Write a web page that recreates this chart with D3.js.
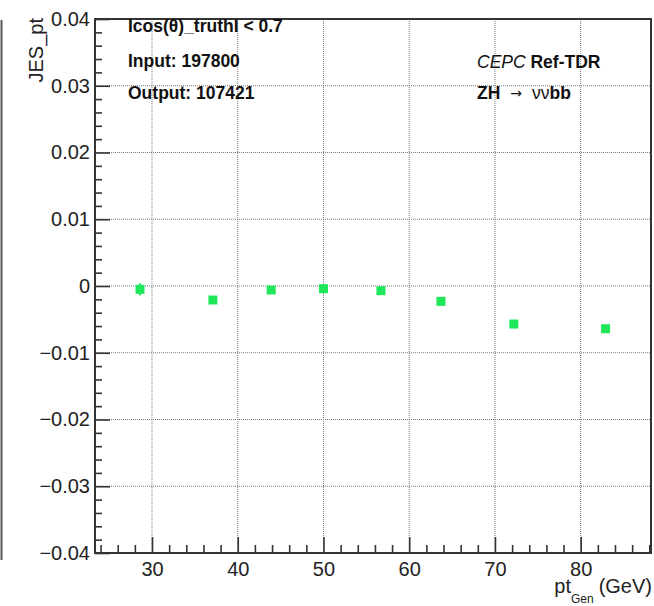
<!DOCTYPE html>
<html>
<head>
<meta charset="utf-8">
<script src="https://cdn.jsdelivr.net/npm/d3@7"></script>
<style>
  body { margin: 0; background: #fff; }
  svg { display: block; font-family: "Liberation Sans", Arial, Helvetica, sans-serif; }
</style>
</head>
<body>
<script>

// values
var ptGen = [28.6, 37.1, 43.9, 50.0, 56.7, 63.7, 72.2, 82.9];
var jesPt = [-0.0005, -0.0021, -0.0006, -0.0004, -0.0007, -0.0023, -0.0057, -0.0064];
var jesErr = [0.0009, 0.0003, 0.0003, 0.0005, 0.0003, 0.0003, 0.0003, 0.0003];

var xMajor = [30, 40, 50, 60, 70, 80];
var yMajor = [-0.04, -0.03, -0.02, -0.01, 0, 0.01, 0.02, 0.03, 0.04];
var yLabels = ["\u22120.04", "\u22120.03", "\u22120.02", "\u22120.01", "0", "0.01", "0.02", "0.03", "0.04"];

var infoLines = ["Icos(\u03b8)_truthI < 0.7", "Input: 197800", "Output: 107421"];

var W = 654, H = 606;
var margin = { top: 19, right: 3, bottom: 53, left: 95 };
var w = W - margin.left - margin.right;
var h = H - margin.top - margin.bottom;

var svg = d3.select("body").append("svg")
    .attr("width", W)
    .attr("height", H);

var x = d3.scaleLinear().domain([23.35, 88.2]).range([0, w]);
var y = d3.scaleLinear().domain([-0.04, 0.04]).range([h, 0]);

var g = svg.append("g")
    .attr("transform", "translate(" + margin.left + "," + margin.top + ")");

// grid
g.selectAll("line.gx")
  .data(xMajor)
  .enter().append("line")
  .attr("x1", function(d) { return x(d); })
  .attr("x2", function(d) { return x(d); })
  .attr("y1", 0).attr("y2", h)
  .attr("stroke", "#777").attr("stroke-width", 1)
  .attr("stroke-dasharray", "1,1");

g.selectAll("line.gy")
  .data(yMajor.slice(1, -1))
  .enter().append("line")
  .attr("y1", function(d) { return y(d); })
  .attr("y2", function(d) { return y(d); })
  .attr("x1", 0).attr("x2", w)
  .attr("stroke", "#777").attr("stroke-width", 1)
  .attr("stroke-dasharray", "1,1");

// minor ticks
var xMinor = d3.range(24, 89, 2).filter(function(d) { return d % 10 !== 0; });
var yMinor = d3.range(-20, 21).map(function(i) { return i * 0.002; })
    .filter(function(d, i) { return i % 5 !== 0; });

g.append("g")
  .attr("transform", "translate(0," + h + ")")
  .call(d3.axisBottom(x).tickValues(xMinor).tickSize(-8).tickFormat(""));

g.append("g")
  .call(d3.axisLeft(y).tickValues(yMinor).tickSize(-7).tickFormat(""));

// major ticks + labels
var xAxis = g.append("g")
  .attr("transform", "translate(0," + h + ")")
  .call(d3.axisBottom(x).tickValues(xMajor).tickSize(-16).tickPadding(9));

var yAxis = g.append("g")
  .call(d3.axisLeft(y).tickValues(yMajor).tickSize(-15).tickPadding(5)
        .tickFormat(function(d, i) { return yLabels[i]; }));

g.selectAll(".domain").remove();
g.selectAll(".tick line").attr("stroke", "#333").attr("stroke-width", 1.6);
g.selectAll(".tick text")
  .attr("font-family", "Liberation Sans, Arial, sans-serif")
  .attr("font-size", "20px")
  .attr("fill", "#222");

// frame
g.append("rect")
  .attr("x", 0).attr("y", 0)
  .attr("width", w).attr("height", h)
  .attr("fill", "none")
  .attr("stroke", "#333")
  .attr("stroke-width", 2);

// error bars + markers
g.selectAll("line.err")
  .data(jesPt)
  .enter().append("line")
  .attr("x1", function(d, i) { return x(ptGen[i]); })
  .attr("x2", function(d, i) { return x(ptGen[i]); })
  .attr("y1", function(d, i) { return y(d - jesErr[i]); })
  .attr("y2", function(d, i) { return y(d + jesErr[i]); })
  .attr("stroke", "#1ee85a")
  .attr("stroke-width", 2);

g.selectAll("rect.pt")
  .data(jesPt)
  .enter().append("rect")
  .attr("class", "pt")
  .attr("x", function(d, i) { return x(ptGen[i]) - 4.5; })
  .attr("y", function(d) { return y(d) - 4.5; })
  .attr("width", 9)
  .attr("height", 9)
  .attr("fill", "#1ee85a");

// texts
g.selectAll("text.info")
  .data(infoLines)
  .enter().append("text")
  .attr("x", 33)
  .attr("y", function(d, i) { return [13, 48, 80][i]; })
  .attr("font-size", "17.5px")
  .attr("font-weight", "bold")
  .attr("fill", "#111")
  .text(function(d) { return d; });

var t1 = svg.append("text")
  .attr("x", 477).attr("y", 68)
  .attr("font-size", "17.5px")
  .attr("fill", "#111");
t1.append("tspan").attr("font-style", "italic").text("CEPC ");
t1.append("tspan").attr("font-weight", "bold").text("Ref-TDR");

var t2 = svg.append("text")
  .attr("x", 477).attr("y", 99)
  .attr("font-size", "17.5px")
  .attr("fill", "#111");
t2.append("tspan").attr("font-weight", "bold").text("ZH");
t2.append("tspan").attr("dx", 10).attr("font-family", "DejaVu Sans").attr("font-size", "14px").attr("dy", -1).text("\u2192");
t2.append("tspan").attr("dx", 10).attr("dy", 1).text("\u03bd\u03bd");
t2.append("tspan").attr("font-weight", "bold").text("bb");

// axis titles
svg.append("text")
  .attr("transform", "translate(43,18) rotate(-90)")
  .attr("text-anchor", "end")
  .attr("font-size", "20px")
  .attr("fill", "#222")
  .text("JES_pt");

var xt = svg.append("text")
  .attr("x", 652).attr("y", 593)
  .attr("text-anchor", "end")
  .attr("font-size", "20px")
  .attr("fill", "#222");
xt.append("tspan").text("pt");
xt.append("tspan").attr("dy", 10).attr("font-size", "12px").text("Gen");
xt.append("tspan").attr("dy", -10).attr("dx", 5).text("(GeV)");

// dark edge on the left of the picture
svg.append("line")
  .attr("x1", 1.5).attr("x2", 1.5)
  .attr("y1", 20).attr("y2", 560)
  .attr("stroke", "#555")
  .attr("stroke-width", 2);

</script>
</body>
</html>
